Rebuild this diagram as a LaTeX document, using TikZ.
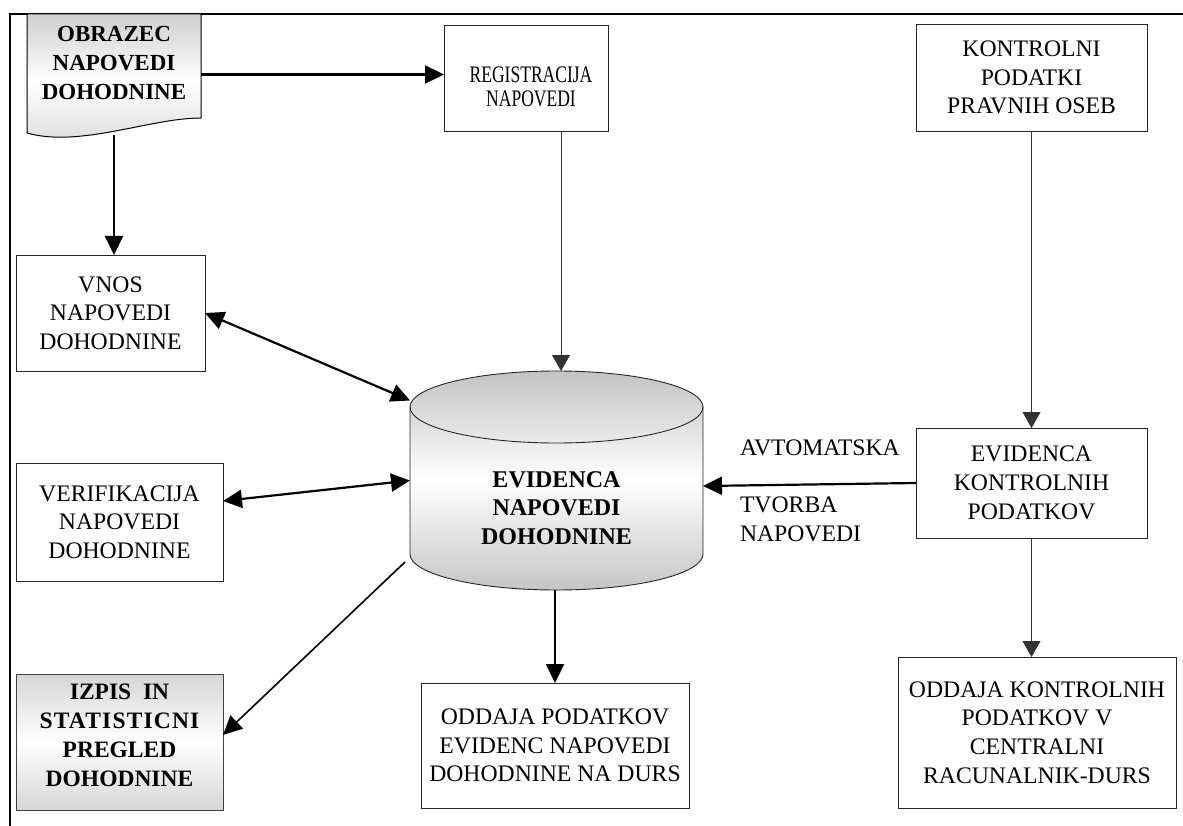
\documentclass[tikz,border=0pt]{standalone}
\usepackage{fontspec}
\setmainfont{Liberation Serif}
\usetikzlibrary{arrows.meta,calc}

\begin{document}
\begin{tikzpicture}[x=1pt,y=-1pt,
  txt/.style={inner sep=0pt, outer sep=0pt, align=center, font=\fontsize{23.7}{28.7}\selectfont},
  narrowtxt/.style={inner sep=0pt, outer sep=0pt, align=center, font=\fontsize{23.7}{24}\selectfont},
  btxt/.style={inner sep=0pt, outer sep=0pt, align=center, font=\bfseries\fontsize{23.5}{29}\selectfont},
  box/.style={txt, draw=black!85, line width=0.9pt, fill=white},
  shadebox/.style={draw=black!75, line width=0.9pt, top color=gray!32, bottom color=gray!32, middle color=white, inner sep=0pt, outer sep=0pt},
  anchorbox/.style={inner sep=0pt, outer sep=0pt},
  thickarrow/.style={line width=2.2pt, -{Triangle[length=19pt,width=18pt]}},
  bothways/.style={line width=2.2pt, {Triangle[length=19pt,width=18pt]}-{Triangle[length=19pt,width=18pt]}},
  midarrow/.style={line width=1.6pt, -{Triangle[length=19pt,width=18pt]}},
  thinarrow/.style={line width=0.9pt, draw=black!80, -{Triangle[length=16pt,width=18pt]}},
  frameline/.style={line width=2.5pt}
]
\useasboundingbox (0,0) rectangle (1183,826);

% page frame (top and left rules)
\draw[frameline] (1183,14) -- (10,14) -- (10,826);

% document shape: OBRAZEC NAPOVEDI DOHODNINE
\shade[top color=gray!38, bottom color=gray!28, middle color=white]
  (27,14) -- (201,14) -- (201,118) .. controls (150,118) and (80,148) .. (27,133) -- cycle;
\draw[line width=1pt]
  (27,14) -- (201,14) -- (201,118) .. controls (150,118) and (80,148) .. (27,133) -- cycle;
\node[anchorbox, minimum width=174pt, minimum height=121pt] (obr) at (114,74.5) {};
\node[btxt, font=\bfseries\fontsize{23}{29}\selectfont] (obrtext) at (114,63) {OBRAZEC\\NAPOVEDI\\DOHODNINE};

% process boxes
\node[box, minimum width=164pt, minimum height=106pt] (reg) at (526,78) {};
\node[narrowtxt] (regtext) at (531,90) {\scalebox{0.74}[1]{\begin{tabular}{@{}c@{}}REGISTRACIJA\\NAPOVEDI\end{tabular}}};
\node[box, minimum width=231pt, minimum height=107pt] (kont) at (1031.5,77.5) {KONTROLNI\\PODATKI\\PRAVNIH OSEB};
\node[box, minimum width=189pt, minimum height=116pt] (vnos) at (110.5,313) {VNOS\\NAPOVEDI\\DOHODNINE};
\node[box, minimum width=207pt, minimum height=118pt] (verif) at (119.5,522) {VERIFIKACIJA\\NAPOVEDI\\DOHODNINE};
\node[shadebox, minimum width=207pt, minimum height=136pt] (izpis) at (119.5,742) {};
\node[btxt] (izpistext) at (119.5,735) {IZPIS~ IN\\{\addfontfeature{LetterSpace=5}STATISTICNI}\\PREGLED\\DOHODNINE};
\node[box, minimum width=268pt, minimum height=125pt] (odp) at (555,745.5) {ODDAJA PODATKOV\\EVIDENC NAPOVEDI\\DOHODNINE NA DURS};
\node[box, minimum width=231pt, minimum height=110pt] (evk) at (1031.5,483) {EVIDENCA\\KONTROLNIH\\PODATKOV};
\node[box, minimum width=278pt, minimum height=151pt] (odk) at (1037,732.5) {ODDAJA KONTROLNIH\\PODATKOV V\\CENTRALNI\\RACUNALNIK-DURS};

% data store cylinder: EVIDENCA NAPOVEDI DOHODNINE
\shade[top color=gray!47, bottom color=gray!45, middle color=white]
  (410,407) -- (410,554) arc[start angle=180, end angle=360, x radius=146.5pt, y radius=36pt]
  -- (703,407) arc[start angle=0, end angle=180, x radius=146.5pt, y radius=36pt] -- cycle;
\draw[line width=0.9pt, draw=black!85]
  (410,407) -- (410,554) arc[start angle=180, end angle=360, x radius=146.5pt, y radius=36pt]
  -- (703,407) arc[start angle=0, end angle=180, x radius=146.5pt, y radius=36pt] -- cycle;
\draw[line width=0.9pt, draw=black!85]
  (410,407) arc[start angle=180, end angle=360, x radius=146.5pt, y radius=36pt];
\node[anchorbox, minimum width=293pt, minimum height=219pt] (cyl) at (556.5,480.5) {};
\node[btxt, font=\bfseries\fontsize{24}{28.5}\selectfont] (cyltext) at (556.5,508) {EVIDENCA\\NAPOVEDI\\DOHODNINE};

% connectors
\draw[thickarrow] (obr.east) -- (obr.east -| reg.west);
\draw[thickarrow] (obr.south) -- (obr.south |- vnos.north);
\draw[thinarrow] ([xshift=35pt]reg.south) -- ([xshift=35pt]reg.south |- cyl.north);
\draw[thinarrow] (kont.south) -- (evk.north);
\draw[thinarrow] (evk.south) -- (evk.south |- odk.north);
\draw[bothways] (vnos.east) -- ([yshift=80pt]cyl.west);
\draw[bothways] ([yshift=21pt]verif.east) -- (cyl.west);
\draw[midarrow] ([shift={(-5pt,28pt)}]cyl.south west) -- ([yshift=7pt]izpis.east);
\draw[thickarrow] (odp.north |- cyl.south) -- (odp.north);
\draw[thickarrow] (evk.west) -- ([yshift=-5.5pt]cyl.east);

% labels of the automatic generation flow
\node[txt, anchor=west] (lblauto) at (740,448) {AVTOMATSKA};
\node[txt, anchor=west, align=left] (lbltvorba) at (740,519) {TVORBA\\NAPOVEDI};
\end{tikzpicture}
\end{document}
